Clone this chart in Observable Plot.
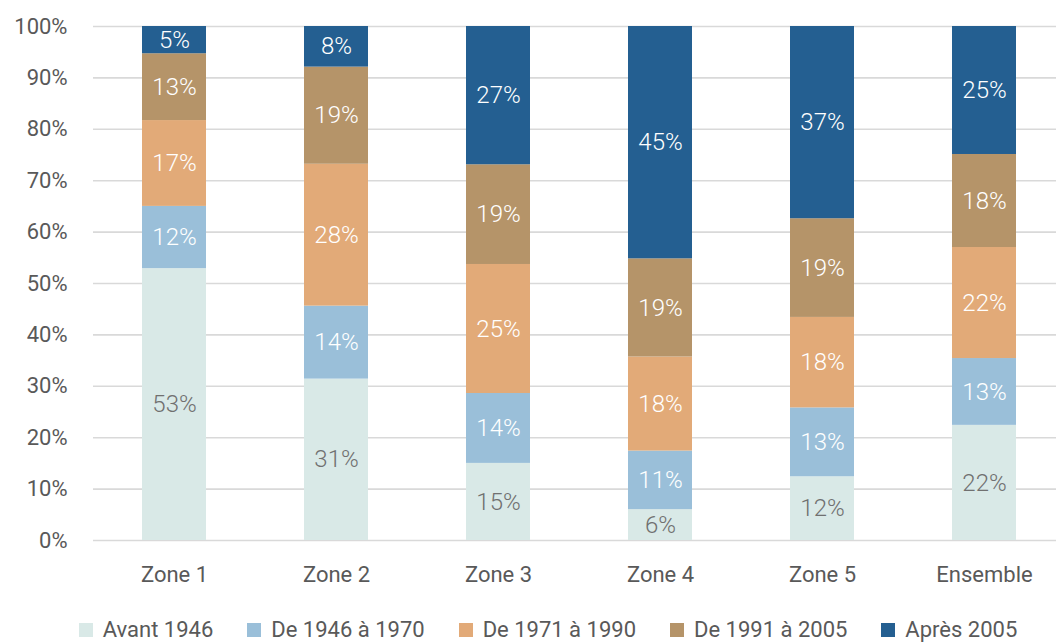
<!DOCTYPE html>
<html>
<head>
<meta charset="utf-8">
<script src="https://cdn.jsdelivr.net/npm/d3@7"></script>
<script src="https://cdn.jsdelivr.net/npm/@observablehq/plot@0.6"></script>
<style>
  html, body { margin: 0; padding: 0; background: #fff; }
  body { width: 1056px; height: 642px; overflow: hidden; font-family: Roboto, "Noto Sans", sans-serif; }
  #legend { display: flex; justify-content: center; align-items: center; height: 30px; line-height: 30px;
            font-size: 22px; color: #595959; padding-left: 40px; margin-top: 3px; }
  #legend .item { display: flex; align-items: center; margin: 0 17px; }
  #legend .sw { width: 14px; height: 14px; margin-right: 10px; }
</style>
</head>
<body>
<div id="chart"></div>
<div id="legend"></div>
<script>
const zones = ["Zone 1", "Zone 2", "Zone 3", "Zone 4", "Zone 5", "Ensemble"];
const series = ["Avant 1946", "De 1946 à 1970", "De 1971 à 1990", "De 1991 à 2005", "Après 2005"];
const colors = ["#d9e9e7", "#9abfd9", "#e2aa78", "#b59469", "#245f91"];
const avant1946 = [52.9, 31.4, 15.0, 6.0, 12.4, 22.4];
const de1946a1970 = [12.1, 14.2, 13.6, 11.4, 13.4, 13.0];
const de1971a1990 = [16.7, 27.6, 25.1, 18.3, 17.6, 21.6];
const de1991a2005 = [13.0, 18.9, 19.4, 19.1, 19.2, 18.1];
const apres2005 = [5.3, 7.9, 26.9, 45.2, 37.4, 24.9];
const yTicks = [0, 10, 20, 30, 40, 50, 60, 70, 80, 90, 100];

const seriesValues = [avant1946, de1946a1970, de1971a1990, de1991a2005, apres2005];
const data = [];
zones.forEach((z, i) => {
  series.forEach((s, j) => data.push({zone: z, series: s, value: seriesValues[j][i]}));
});
const lbl = d => Math.round(d.value) + "%";

const chart = Plot.plot({
  width: 1056,
  height: 612,
  marginLeft: 93,
  marginRight: 0,
  marginTop: 26,
  marginBottom: 72,
  style: {fontFamily: "Roboto, sans-serif", fontSize: "22px", color: "#595959", background: "#fff"},
  x: {domain: zones, range: [93, 1065], paddingInner: 0.605, paddingOuter: 0.3025, label: null},
  y: {domain: [0, 100], label: null},
  color: {domain: series, range: colors},
  marks: [
    Plot.gridY(yTicks, {stroke: "#d9d9d9", strokeOpacity: 1, strokeWidth: 1.6}),
    Plot.axisY(yTicks, {tickSize: 0, tickPadding: 26, tickFormat: d => d + "%", label: null, fill: "#595959"}),
    Plot.axisX({tickSize: 0, tickPadding: 26, label: null, fill: "#595959"}),
    Plot.barY(data, {x: "zone", y: "value", fill: "series", z: "series"}),
    Plot.text(data, Plot.stackY({x: "zone", y: "value", z: "series",
      text: d => d.series === series[0] ? "" : lbl(d), fill: "#ffffff", fontSize: 24, fontWeight: 300})),
    Plot.text(data, Plot.stackY({x: "zone", y: "value", z: "series",
      text: d => d.series === series[0] ? lbl(d) : "", fill: "#707070", fontSize: 24, fontWeight: 300}))
  ]
});
document.getElementById("chart").appendChild(chart);

const legend = document.getElementById("legend");
series.forEach((s, i) => {
  const item = document.createElement("div");
  item.className = "item";
  const sw = document.createElement("span");
  sw.className = "sw";
  sw.style.background = colors[i];
  const t = document.createElement("span");
  t.textContent = s;
  item.appendChild(sw);
  item.appendChild(t);
  legend.appendChild(item);
});
</script>
</body>
</html>
